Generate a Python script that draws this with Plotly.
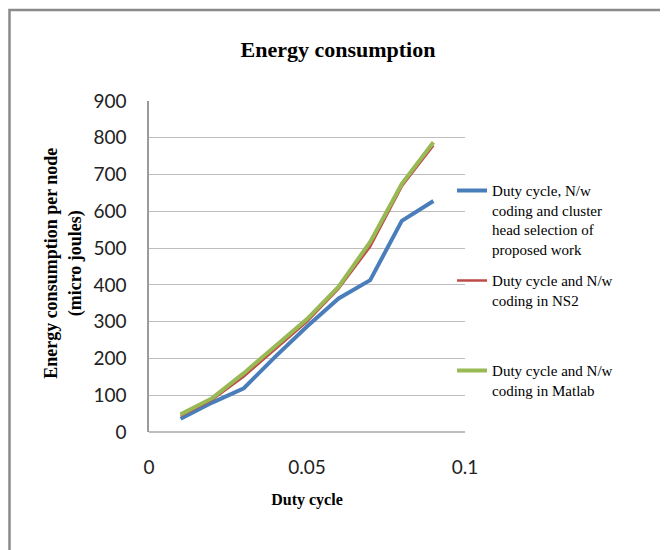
import plotly.graph_objects as go

duty_cycle = [0.01, 0.02, 0.03, 0.04, 0.05, 0.06, 0.07, 0.08, 0.09]
proposed = [36, 80, 119, 205, 287, 363, 413, 574, 628]
ns2 = [44, 88, 151, 225, 300, 390, 504, 668, 779]
matlab = [48, 92, 160, 232, 307, 395, 517, 675, 788]

names = [
    "Duty cycle, N/w<br>coding and cluster<br>head selection of<br>proposed work",
    "Duty cycle and N/w<br>coding in NS2<br>&nbsp;<br>&nbsp;",
    "Duty cycle and N/w<br>coding in Matlab",
]
colors = ["#4A7EBB", "#BE4B48", "#98B954"]
widths = [4, 2.5, 4]
series = [proposed, ns2, matlab]
groups = ["g1", "g2", "g3"]

fig = go.Figure()
for name, col, w, ys, g in zip(names, colors, widths, series, groups):
    fig.add_trace(go.Scatter(x=duty_cycle, y=ys, mode="lines", name=name,
                             line=dict(color=col, width=w), legendgroup=g))

serif = "Liberation Serif"
sans = "Lato"

fig.update_layout(
    width=668, height=550,
    margin=dict(l=141, r=211, t=93, b=126),
    paper_bgcolor="white", plot_bgcolor="white",
    title=dict(text="<b>Energy consumption</b>", x=0.494, xanchor="center",
               y=0.9255, yanchor="middle",
               font=dict(family=serif, size=22, color="#000")),
    xaxis=dict(range=[0, 0.1], tickvals=[0, 0.05, 0.1], ticktext=["0", "0.05", "0.1"],
               showgrid=False, zeroline=False, showline=False, ticks="",
               automargin=False, ticklabelstandoff=22,
               tickfont=dict(family=sans, size=19, color="#222"),
               title=dict(text="<b>Duty cycle</b>", font=dict(family=serif, size=16, color="#000"),
                          standoff=16)),
    yaxis=dict(range=[0, 900], dtick=100, showgrid=True, gridcolor="#BDBDBD", gridwidth=1,
               zeroline=True, zerolinecolor="#BDBDBD", showline=True, linecolor="#9A9A9A",
               linewidth=1.5, ticks="", ticklen=0, automargin=False, ticklabelstandoff=17,
               tickfont=dict(family=sans, size=19, color="#222")),
    legend=dict(x=0.959, y=0.779, xanchor="left", yanchor="top", bgcolor="rgba(0,0,0,0)",
                font=dict(family=serif, size=15, color="#000"), valign="top",
                tracegroupgap=9, traceorder="grouped", itemwidth=30),
    showlegend=True,
)

fig.add_annotation(xref="paper", yref="paper", x=-0.27, y=0.51, xanchor="center", yanchor="middle",
                   text="<b>Energy consumption per node<br>(micro joules)</b>", textangle=-90,
                   showarrow=False, font=dict(family=serif, size=18, color="#000"))

fig.add_shape(type="rect", xref="paper", yref="paper", x0=-0.4415, x1=2, y0=-1, y1=1.275,
              line=dict(color="#8A8A8A", width=2.5), fillcolor="rgba(0,0,0,0)", layer="below")

fig.write_html("out.html")
